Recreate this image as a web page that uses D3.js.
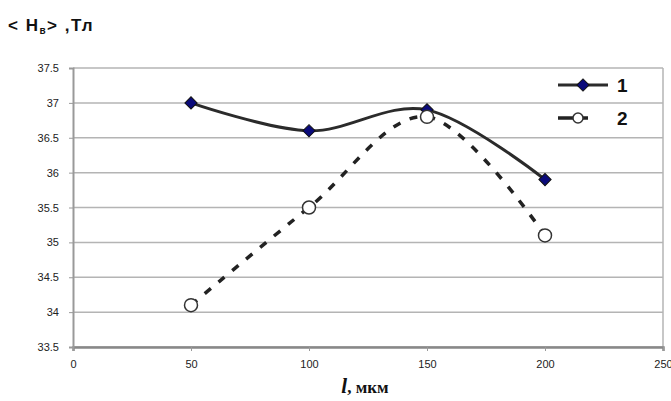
<!DOCTYPE html>
<meta charset="utf-8">
<script src="https://d3js.org/d3.v7.min.js"></script>
<style>
  body { margin: 0; background: #fff; }
  text { font-family: Arial, "Liberation Sans", sans-serif; }
</style>
<body>
<div id="my_dataviz"></div>
<script>
    // data
    var xValues = [50, 100, 150, 200];
    var series1 = [37, 36.6, 36.9, 35.9];
    var series2 = [34.1, 35.5, 36.8, 35.1];
    var xTicks = [0, 50, 100, 150, 200, 250];
    var yTicks = [33.5, 34, 34.5, 35, 35.5, 36, 36.5, 37, 37.5];
    var legendNames = ["1", "2"];

    var W = 671, H = 401;
    var margin = { top: 68, right: 8, bottom: 54, left: 73 },
        width = W - margin.left - margin.right,
        height = H - margin.top - margin.bottom;

    var root = d3.select("#my_dataviz")
        .append("svg")
        .attr("width", W)
        .attr("height", H);

    var svg = root.append("g")
        .attr("transform", "translate(" + margin.left + "," + margin.top + ")");

    var x = d3.scaleLinear().domain([0, 250]).range([0, width]);
    var y = d3.scaleLinear().domain([33.5, 37.5]).range([height, 0]);

    // gridlines
    svg.append("g").selectAll("line")
        .data(yTicks)
        .enter().append("line")
        .attr("x1", 0).attr("x2", width)
        .attr("y1", function(d) { return y(d); })
        .attr("y2", function(d) { return y(d); })
        .attr("stroke", "#b4b4b4")
        .attr("stroke-width", 1.5);

    // right border
    svg.append("line")
        .attr("x1", width).attr("x2", width)
        .attr("y1", 0).attr("y2", height)
        .attr("stroke", "#b4b4b4").attr("stroke-width", 1.5);

    // axes
    var xAxis = svg.append("g")
        .attr("transform", "translate(0," + height + ")")
        .call(d3.axisBottom(x).tickValues(xTicks).tickSize(4).tickPadding(9).tickFormat(d3.format("d")));
    var yAxis = svg.append("g")
        .call(d3.axisLeft(y).tickValues(yTicks).tickSize(4).tickPadding(10).tickFormat(function(d) { return String(d); }));

    xAxis.select(".domain").attr("stroke", "#888").attr("stroke-width", 2.5);
    yAxis.select(".domain").attr("stroke", "#999").attr("stroke-width", 2);
    [xAxis, yAxis].forEach(function(a) {
        a.selectAll(".tick line").attr("stroke", "#999");
        a.selectAll(".tick text").attr("fill", "#222").style("font-size", "11px")
            .style("font-family", "Arial, 'Liberation Sans', sans-serif");
    });

    var line = d3.line()
        .x(function(d, i) { return x(xValues[i]); })
        .y(function(d) { return y(d); })
        .curve(d3.curveCatmullRom.alpha(0));

    // series 2 (dashed)
    svg.append("path")
        .datum(series2)
        .attr("fill", "none")
        .attr("stroke", "#222")
        .attr("stroke-width", 3.5)
        .attr("stroke-dasharray", "8,10")
        .attr("d", line);

    // series 1 (solid)
    svg.append("path")
        .datum(series1)
        .attr("fill", "none")
        .attr("stroke", "#2b2b2b")
        .attr("stroke-width", 3)
        .attr("d", line);

    var diamond = d3.symbol().type(d3.symbolSquare).size(75);

    svg.selectAll(".m1")
        .data(series1)
        .enter().append("path")
        .attr("class", "m1")
        .attr("d", diamond)
        .attr("transform", function(d, i) { return "translate(" + x(xValues[i]) + "," + y(d) + ") rotate(45)"; })
        .attr("fill", "#0a0a7a")
        .attr("stroke", "#111")
        .attr("stroke-width", 1);

    svg.selectAll(".m2")
        .data(series2)
        .enter().append("circle")
        .attr("class", "m2")
        .attr("cx", function(d, i) { return x(xValues[i]); })
        .attr("cy", function(d) { return y(d); })
        .attr("r", 6.5)
        .attr("fill", "#fff")
        .attr("stroke", "#333")
        .attr("stroke-width", 1.5);

    // legend
    var leg = root.append("g");
    var lx1 = 558, lx2 = 608;
    leg.append("line").attr("x1", lx1).attr("x2", lx2).attr("y1", 85).attr("y2", 85)
        .attr("stroke", "#2b2b2b").attr("stroke-width", 3);
    leg.append("path").attr("d", diamond)
        .attr("transform", "translate(" + ((lx1 + lx2) / 2) + ",85) rotate(45)")
        .attr("fill", "#0a0a7a").attr("stroke", "#111");
    leg.append("line").attr("x1", lx1).attr("x2", lx2).attr("y1", 118).attr("y2", 118)
        .attr("stroke", "#222").attr("stroke-width", 3.5).attr("stroke-dasharray", "19,6,5,20");
    leg.append("circle").attr("cx", 578).attr("cy", 118).attr("r", 5)
        .attr("fill", "#fff").attr("stroke", "#333").attr("stroke-width", 1.5);
    leg.selectAll(".lt")
        .data(legendNames)
        .enter().append("text")
        .attr("x", 617)
        .attr("y", function(d, i) { return 92 + i * 33; })
        .style("font-size", "19px")
        .style("font-weight", "bold")
        .attr("fill", "#111")
        .text(function(d) { return d; });

    // title
    var t = root.append("text")
        .attr("x", 8).attr("y", 31)
        .style("font-size", "17px").style("font-weight", "bold")
        .style("letter-spacing", "1.5px")
        .attr("fill", "#111");
    t.append("tspan").text("< H");
    t.append("tspan").attr("dy", 3).style("font-size", "10px").text("в");
    t.append("tspan").attr("dy", -3).text(">  ,Тл");

    // x axis label
    var xl = root.append("text")
        .attr("x", margin.left + width / 2 - 3)
        .attr("y", 393)
        .attr("text-anchor", "middle")
        .style("font-family", "'Liberation Serif', 'DejaVu Serif', serif")
        .style("font-weight", "bold")
        .attr("fill", "#111");
    xl.append("tspan").style("font-style", "italic").style("font-size", "21px").text("l");
    xl.append("tspan").style("font-size", "17px").text(", мкм");
</script>
</body>
